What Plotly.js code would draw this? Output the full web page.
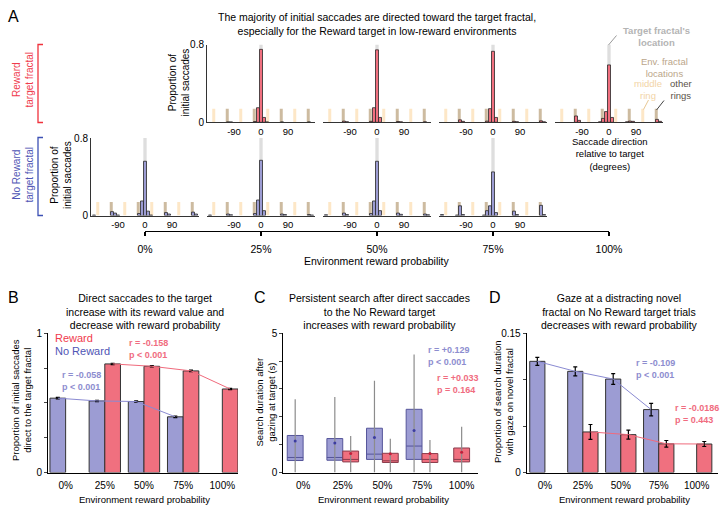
<!DOCTYPE html>
<html><head><meta charset="utf-8">
<script src="https://cdn.plot.ly/plotly-3.0.1.min.js"></script>
<style>html,body{margin:0;padding:0;background:#fff}#chart{width:720px;height:520px}</style>
</head><body><div id="chart"></div>
<script>
// ================= DATA =================
const envProbLabels = ['0%', '25%', '50%', '75%', '100%'];
const envProbIdx = [0, 1, 2, 3, 4];

// Panel A: environment fractal locations (degrees relative to target)
const middleRingAngles = [-157.5, -67.5, 22.5, 112.5];
const otherRingAngles = [-112.5, -22.5, 67.5, 157.5];
const envMarkerHeight = 0.14;
const targetAngle = [0];
const targetMarkerHeight = 0.8;

// Panel A, Reward target: saccade direction histograms (env 25%, 50%, 75%, 100%)
const rw25Ang = [-110, -100, -20, -10, 0, 10, 20, 70, 160];
const rw25Prop = [0.004, 0.004, 0.008, 0.15, 0.75, 0.05, 0.004, 0.004, 0.004];
const rw50Ang = [-110, -100, -20, -10, 0, 10, 70, 80, 160];
const rw50Prop = [0.012, 0.006, 0.01, 0.15, 0.745, 0.05, 0.008, 0.005, 0.005];
const rw75Ang = [-110, -100, -20, -10, 0, 10, 70, 80, 160, 170];
const rw75Prop = [0.025, 0.01, 0.012, 0.14, 0.73, 0.05, 0.01, 0.006, 0.015, 0.005];
const rw100Ang = [-110, -100, -30, -20, -10, 0, 10, 60, 70, 80, 160, 170];
const rw100Prop = [0.065, 0.02, 0.005, 0.04, 0.11, 0.59, 0.05, 0.005, 0.012, 0.01, 0.03, 0.01];

// Panel A, No Reward target (env 0%, 25%, 50%, 75%)
const nr0Ang = [-170, -110, -100, -90, -20, -10, 0, 10, 20, 70, 80, 160, 170];
const nr0Prop = [0.005, 0.04, 0.025, 0.005, 0.02, 0.15, 0.56, 0.045, 0.005, 0.03, 0.015, 0.035, 0.015];
const nr25Ang = [-170, -110, -100, -20, -10, 0, 10, 70, 80, 160, 170];
const nr25Prop = [0.005, 0.015, 0.008, 0.02, 0.16, 0.57, 0.05, 0.015, 0.01, 0.01, 0.005];
const nr50Ang = [-170, -110, -100, -20, -10, 0, 10, 70, 80, 160, 170];
const nr50Prop = [0.008, 0.025, 0.01, 0.02, 0.15, 0.56, 0.05, 0.025, 0.012, 0.015, 0.008];
const nr75Ang = [-170, -120, -110, -100, -30, -20, -10, 0, 10, 70, 80, 160, 170];
const nr75Prop = [0.01, 0.005, 0.10, 0.01, 0.005, 0.05, 0.10, 0.45, 0.03, 0.045, 0.01, 0.105, 0.01];

// Panel B: proportion of initial saccades direct to target
const bNoRewardIdx = [0, 1, 2, 3];
const bNoReward = [0.534, 0.514, 0.51, 0.40];
const bNoRewardErr = [0.005, 0.005, 0.005, 0.006];
const bRewardIdx = [1, 2, 3, 4];
const bReward = [0.78, 0.763, 0.73, 0.60];
const bRewardErr = [0.005, 0.005, 0.005, 0.005];

// Panel C: search duration after gazing at target (s), box stats
const cNoRewardIdx = [0, 1, 2, 3];
const cNoRewardLo = [0, 0, 0, 0];
const cNoRewardQ1 = [0.43, 0.44, 0.47, 0.47];
const cNoRewardMed = [0.54, 0.54, 0.66, 0.95];
const cNoRewardQ3 = [1.33, 1.22, 1.59, 2.27];
const cNoRewardHi = [2.63, 2.71, 3.30, 4.24];
const cNoRewardMean = [1.13, 1.06, 1.26, 1.51];
const cRewardIdx = [1, 2, 3, 4];
const cRewardLo = [0, 0, 0, 0];
const cRewardQ1 = [0.38, 0.36, 0.36, 0.38];
const cRewardMed = [0.47, 0.42, 0.47, 0.47];
const cRewardQ3 = [0.77, 0.69, 0.68, 0.88];
const cRewardHi = [1.31, 1.21, 1.17, 1.64];
const cRewardMean = [0.68, 0.67, 0.68, 0.73];

// Panel D: proportion of search duration with gaze on novel fractal
const dNoRewardIdx = [0, 1, 2, 3];
const dNoReward = [0.1198, 0.109, 0.1007, 0.0678];
const dNoRewardErr = [0.0043, 0.0049, 0.0058, 0.0067];
const dRewardIdx = [1, 2, 3, 4];
const dReward = [0.0437, 0.0408, 0.0309, 0.0307];
const dRewardErr = [0.008, 0.0049, 0.0036, 0.0027];

// ================= STYLE / LAYOUT =================
const W = 720, H = 520;
const fx = p => p / W;
const fy = p => 1 - p / H;
const FONT = 'Liberation Sans, Arial, sans-serif';
const redFill = '#f0707f', blueFill = '#9c9cd3';
const redText = '#f03a4c', blueText = '#4f55b5';
const redStat = '#f06c80', blueStat = '#8d8dcf';

const traces = [];
const layout = {
  width: W, height: H, margin: {l: 0, r: 0, t: 0, b: 0},
  showlegend: false, barmode: 'overlay',
  font: {family: FONT, size: 10, color: '#000'},
  paper_bgcolor: '#fff', plot_bgcolor: 'rgba(0,0,0,0)',
  annotations: [], shapes: []
};
const axId = n => (n === 1 ? '' : String(n));

function ann(text, x, y, o = {}) {
  layout.annotations.push({
    text, x: fx(x), y: fy(y), xref: 'paper', yref: 'paper', showarrow: false,
    xanchor: o.xanchor || 'center', yanchor: o.yanchor || 'middle',
    textangle: o.angle || 0, align: o.align || 'center',
    font: {family: FONT, size: o.size || 10, color: o.color || '#000'}
  });
}
function seg(x0, y0, x1, y1, color, w) {
  layout.shapes.push({type: 'line', xref: 'paper', yref: 'paper',
    x0: fx(x0), y0: fy(y0), x1: fx(x1), y1: fy(y1), line: {color, width: w || 1}});
}

// ---- Panel A histograms ----
const hists = [
  {ang: rw25Ang, val: rw25Prop, fill: redFill, cx: 261, top: 44.5, bot: 122.3, showY: true},
  {ang: rw50Ang, val: rw50Prop, fill: redFill, cx: 377, top: 44.5, bot: 122.3},
  {ang: rw75Ang, val: rw75Prop, fill: redFill, cx: 493, top: 44.5, bot: 122.3},
  {ang: rw100Ang, val: rw100Prop, fill: redFill, cx: 609, top: 44.5, bot: 122.3},
  {ang: nr0Ang, val: nr0Prop, fill: blueFill, cx: 145, top: 138, bot: 215.5, showY: true},
  {ang: nr25Ang, val: nr25Prop, fill: blueFill, cx: 261, top: 138, bot: 215.5},
  {ang: nr50Ang, val: nr50Prop, fill: blueFill, cx: 377, top: 138, bot: 215.5},
  {ang: nr75Ang, val: nr75Prop, fill: blueFill, cx: 493, top: 138, bot: 215.5}
];
const halfW = 54;
hists.forEach((h, i) => {
  const n = i + 1, id = axId(n);
  const xa = 'x' + id, ya = 'y' + id;
  layout['xaxis' + id] = {
    domain: [fx(h.cx - halfW), fx(h.cx + halfW)], range: [-180, 180], anchor: ya,
    showline: true, linecolor: '#333', linewidth: 1, showgrid: false, zeroline: false,
    tickvals: [-90, 0, 90], ticktext: ['-90', '0', '90'], ticks: '', tickfont: {size: 9.5},
    fixedrange: true, automargin: false
  };
  layout['yaxis' + id] = {
    domain: [fy(h.bot), fy(h.top)], range: [0, 0.8], anchor: xa,
    showline: !!h.showY, linecolor: '#333', linewidth: 1, showgrid: false, zeroline: false,
    showticklabels: !!h.showY, tickvals: [0, 0.8], ticktext: ['0', '0.8'], ticks: '',
    tickfont: {size: 10}, fixedrange: true, automargin: false
  };
  traces.push({type: 'bar', x: middleRingAngles, y: middleRingAngles.map(() => envMarkerHeight),
    width: 10, marker: {color: '#fde7c7', line: {width: 0}}, xaxis: xa, yaxis: ya, hoverinfo: 'skip'});
  traces.push({type: 'bar', x: otherRingAngles, y: otherRingAngles.map(() => envMarkerHeight),
    width: 10, marker: {color: '#cdbba0', line: {width: 0}}, xaxis: xa, yaxis: ya, hoverinfo: 'skip'});
  traces.push({type: 'bar', x: targetAngle, y: [targetMarkerHeight],
    width: 11, marker: {color: '#dedede', line: {width: 0}}, xaxis: xa, yaxis: ya, hoverinfo: 'skip'});
  traces.push({type: 'bar', x: h.ang, y: h.val, width: 10,
    marker: {color: h.fill, line: {color: '#2a2a2a', width: 0.8}}, xaxis: xa, yaxis: ya});
});

// ---- Panel A bracket axis (environment reward probability) ----
{
  const n = 9, id = axId(n);
  layout['xaxis' + id] = {
    domain: [fx(145), fx(609)], range: [0, 4], anchor: 'y' + id,
    showline: true, linecolor: '#000', linewidth: 1.3, showgrid: false, zeroline: false,
    tickvals: envProbIdx, ticktext: envProbLabels, ticks: 'outside', ticklen: 4, tickwidth: 1.3,
    tickcolor: '#000', tickfont: {size: 10.5}, ticklabelstandoff: 4, fixedrange: true, automargin: false
  };
  layout['yaxis' + id] = {domain: [fy(231), fy(229)], range: [0, 1], anchor: 'x' + id, visible: false, fixedrange: true};
  traces.push({type: 'scatter', x: envProbIdx, y: envProbIdx.map(() => 0), mode: 'markers',
    marker: {opacity: 0}, xaxis: 'x' + id, yaxis: 'y' + id, hoverinfo: 'skip'});
}

// ---- Panels B, C, D axes ----
function panelAxes(n, xl, xr, xrange, yrange, ytv, ytt) {
  const id = axId(n);
  layout['xaxis' + id] = {
    domain: [fx(xl), fx(xr)], range: xrange, anchor: 'y' + id,
    showline: true, linecolor: '#000', linewidth: 1, showgrid: false, zeroline: false,
    tickvals: envProbIdx, ticktext: envProbLabels, ticks: '', tickfont: {size: 10},
    ticklabelstandoff: 3, fixedrange: true, automargin: false
  };
  layout['yaxis' + id] = {
    domain: [fy(472.5), fy(333.3)], range: yrange, anchor: 'x' + id,
    showline: true, linecolor: '#000', linewidth: 1, showgrid: false, zeroline: false,
    tickvals: ytv, ticktext: ytt, ticks: 'outside', ticklen: 3, tickfont: {size: 10},
    fixedrange: true, automargin: false
  };
  return {xa: 'x' + id, ya: 'y' + id};
}
const B = panelAxes(10, 48, 238, [-0.45, 4.4], [0, 1], [0, 0.25, 0.5, 0.75, 1], ['0', '', '', '', '1']);
const C = panelAxes(11, 283.3, 478.3, [-0.5, 4.42], [0, 5], [0, 1, 2, 3, 4, 5], ['0', '', '', '', '', '5']);
const D = panelAxes(12, 526.7, 718.3, [-0.48, 4.57], [0, 0.15], [0, 0.05, 0.1, 0.15], ['0', '', '', '0.15']);

function barPanel(P, nrIdx, nr, nrErr, rwIdx, rw, rwErr) {
  traces.push({type: 'bar', x: nrIdx, y: nr, width: 0.4, offset: -0.4,
    marker: {color: blueFill, line: {color: '#333', width: 1}}, xaxis: P.xa, yaxis: P.ya});
  traces.push({type: 'bar', x: rwIdx, y: rw, width: 0.4, offset: 0,
    marker: {color: redFill, line: {color: '#333', width: 1}}, xaxis: P.xa, yaxis: P.ya});
  traces.push({type: 'scatter', mode: 'lines', x: nrIdx.map(v => v - 0.2), y: nr,
    line: {color: '#8a8ad2', width: 1},
    error_y: {type: 'data', array: nrErr, visible: true, color: '#000', thickness: 1.2, width: 2},
    xaxis: P.xa, yaxis: P.ya});
  traces.push({type: 'scatter', mode: 'lines', x: rwIdx.map(v => v + 0.2), y: rw,
    line: {color: '#f06a7c', width: 1},
    error_y: {type: 'data', array: rwErr, visible: true, color: '#000', thickness: 1.2, width: 2},
    xaxis: P.xa, yaxis: P.ya});
}
barPanel(B, bNoRewardIdx, bNoReward, bNoRewardErr, bRewardIdx, bReward, bRewardErr);
barPanel(D, dNoRewardIdx, dNoReward, dNoRewardErr, dRewardIdx, dReward, dRewardErr);

// Panel C boxes
function boxSet(pos, lo, q1, med, q3, hi, mean, fill, lineCol, meanCol) {
  const wx = [], wy = [];
  pos.forEach((p, i) => { wx.push(p, p, null); wy.push(lo[i], hi[i], null); });
  traces.push({type: 'scatter', mode: 'lines', x: wx, y: wy, line: {color: '#8c8c8c', width: 1.2},
    xaxis: C.xa, yaxis: C.ya, hoverinfo: 'skip'});
  traces.push({type: 'box', x: pos, q1: q1, median: med, q3: q3, lowerfence: q1, upperfence: q3,
    width: 0.4, whiskerwidth: 0, fillcolor: fill, line: {color: lineCol, width: 1},
    xaxis: C.xa, yaxis: C.ya});
  traces.push({type: 'scatter', mode: 'markers', x: pos, y: mean,
    marker: {color: meanCol, size: 3}, xaxis: C.xa, yaxis: C.ya});
}
boxSet(cNoRewardIdx.map(v => v - 0.2), cNoRewardLo, cNoRewardQ1, cNoRewardMed, cNoRewardQ3, cNoRewardHi,
  cNoRewardMean, blueFill, '#55559a', '#3c3ca0');
boxSet(cRewardIdx.map(v => (v === 4 ? v : v + 0.2)), cRewardLo, cRewardQ1, cRewardMed, cRewardQ3, cRewardHi,
  cRewardMean, redFill, '#8a3c4c', '#c0203a');

// ================= TEXT =================
ann('A', 6, 17, {xanchor: 'left', size: 16});
ann('B', 6, 297, {xanchor: 'left', size: 16});
ann('C', 252, 297, {xanchor: 'left', size: 16});
ann('D', 487, 297, {xanchor: 'left', size: 16});

ann('The majority of initial saccades are directed toward the target fractal,<br>especially for the Reward target in low-reward environments', 376.5, 24, {size: 10.5});
ann('Reward<br>target fractal', 22.5, 80, {angle: -90, color: redText, size: 10});
ann('No Reward<br>target fractal', 22.5, 175, {angle: -90, color: blueText, size: 10});
ann('Proportion of<br>initial saccades', 178.5, 83, {angle: -90, size: 10});
ann('Proportion of<br>initial saccades', 61, 175, {angle: -90, size: 10});
ann('Environment reward probability', 376.7, 261, {size: 10.5});

ann('<b>Target fractal\'s<br>location</b>', 656, 37, {color: '#b4b4b4', size: 9.5});
ann('Env. fractal<br>locations', 664, 67.5, {color: '#bba68a', size: 9.5});
ann('middle<br>ring', 648.3, 89.7, {color: '#f2d4a6', size: 9.5});
ann('other<br>rings', 681, 89.7, {color: '#5a5248', size: 9.5});
ann('Saccade direction<br>relative to target<br>(degrees)', 610, 154, {size: 9.5});

// brackets
layout.shapes.push({type: 'path', xref: 'paper', yref: 'paper',
  path: `M ${fx(43)} ${fy(44.5)} L ${fx(38)} ${fy(44.5)} L ${fx(38)} ${fy(122.5)} L ${fx(43)} ${fy(122.5)}`,
  line: {color: '#f0323c', width: 1.3}});
layout.shapes.push({type: 'path', xref: 'paper', yref: 'paper',
  path: `M ${fx(43)} ${fy(137.5)} L ${fx(38)} ${fy(137.5)} L ${fx(38)} ${fy(215.5)} L ${fx(43)} ${fy(215.5)}`,
  line: {color: '#3c50b4', width: 1.3}});
// callout lines
seg(608.5, 45, 616.5, 35.5, '#9a9a9a', 1);
seg(648.5, 100, 643.5, 109.5, '#e8c894', 1);
seg(664, 100.5, 656.5, 110, '#444', 1);

// Panel B text
ann('Direct saccades to the target<br>increase with its reward value and<br>decrease with reward probability', 145, 311.5, {size: 10.5});
ann('Reward', 53, 338.3, {xanchor: 'left', color: redText, size: 11});
ann('No Reward', 53, 351, {xanchor: 'left', color: blueText, size: 11});
ann('<b>r = -0.158<br>p < 0.001</b>', 127, 349, {xanchor: 'left', align: 'left', color: redStat, size: 9});
ann('<b>r = -0.058<br>p < 0.001</b>', 60, 381, {xanchor: 'left', align: 'left', color: blueStat, size: 9});
ann('Proportion of initial saccades<br>direct to the target fractal', 21, 400, {angle: -90, size: 9.5});
ann('Environment reward probability', 144, 499, {size: 9.5});

// Panel C text
ann('Persistent search after direct saccades<br>to the No Reward target<br>increases with reward probability', 379, 311.5, {size: 10.5});
ann('<b>r = +0.129<br>p < 0.001</b>', 425.5, 355.5, {xanchor: 'left', align: 'left', color: blueStat, size: 9});
ann('<b>r = +0.033<br>p = 0.164</b>', 435, 383.5, {xanchor: 'left', align: 'left', color: redStat, size: 9});
ann('Search duration after<br>gazing at target (s)', 264.5, 402, {angle: -90, size: 9.5});
ann('Environment reward probability', 383, 499, {size: 9.5});

// Panel D text
ann('Gaze at a distracting novel<br>fractal on No Reward target trials<br>decreases with reward probability', 619, 311.5, {size: 10.5});
ann('<b>r = -0.109<br>p < 0.001</b>', 634, 369, {xanchor: 'left', align: 'left', color: blueStat, size: 9});
ann('<b>r = -0.0186<br>p = 0.443</b>', 673, 414, {xanchor: 'left', align: 'left', color: redStat, size: 9});
ann('Proportion of search duration<br>with gaze on novel fractal', 503, 402, {angle: -90, size: 9.5});
ann('Environment reward probability', 624, 499, {size: 9.5});

Plotly.newPlot('chart', traces, layout, {staticPlot: true, displayModeBar: false});
</script>
</body></html>
